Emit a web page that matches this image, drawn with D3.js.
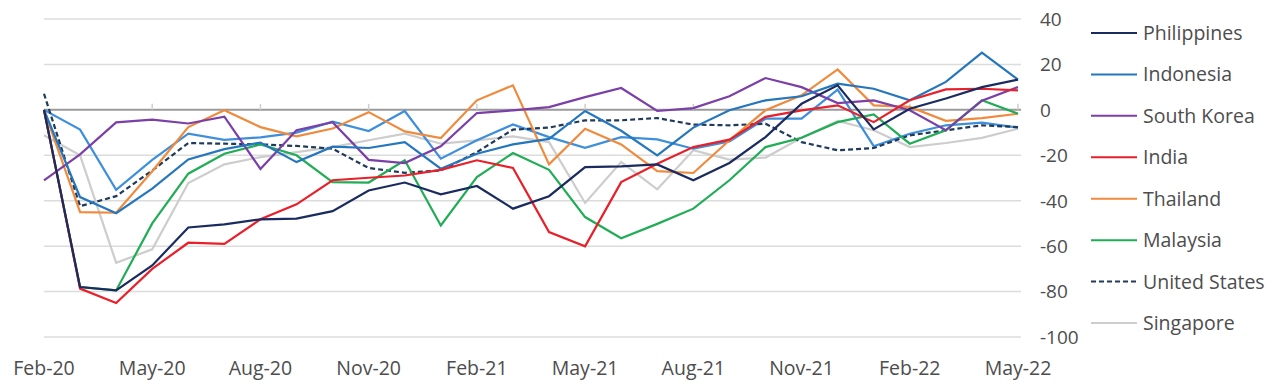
<!DOCTYPE html>
<html>
<head>
<meta charset="utf-8">
<script src="https://cdn.jsdelivr.net/npm/d3@7"></script>
<style>
  html, body { margin: 0; padding: 0; background: #fff; }
  svg { display: block; }
  text { font-family: "Open Sans", "Noto Sans", sans-serif; fill: #4d4d4d; }
</style>
</head>
<body>
<svg id="chart" width="1287" height="392"></svg>
<script>
// ---- data ----
const months = ["Feb-20","Mar-20","Apr-20","May-20","Jun-20","Jul-20","Aug-20","Sep-20","Oct-20","Nov-20","Dec-20","Jan-21",
  "Feb-21","Mar-21","Apr-21","May-21","Jun-21","Jul-21","Aug-21","Sep-21","Oct-21","Nov-21","Dec-21","Jan-22",
  "Feb-22","Mar-22","Apr-22","May-22"];
const tickLabels = ["Feb-20","May-20","Aug-20","Nov-20","Feb-21","May-21","Aug-21","Nov-21","Feb-22","May-22"];
const yTicks = [40, 20, 0, -20, -40, -60, -80, -100];

const philippines = [0,-78,-79.5,-68.5,-51.8,-50.4,-48.2,-47.9,-44.6,-35.5,-32,-37.2,-33.5,-43.5,-38,-25.2,-24.9,-24,-31,-23.4,-12,2.7,10.8,-8.6,0.5,5,10,13.3];
const indonesia   = [0,-38.4,-45.5,-34.7,-21.8,-17.3,-14.4,-23,-16.2,-16.8,-14.2,-25.9,-19.3,-15.2,-12.8,-0.5,-9.2,-20,-7.8,-0.2,4.2,6,11.5,9.3,4.2,12.3,25.2,13.3];
const otherBlue   = [0,-8.7,-35.2,-22,-10.5,-13.2,-12.1,-10,-5.2,-9.3,-0.5,-21.5,-13.4,-6.4,-12,-16.7,-12,-13,-17.1,-13.9,-3.9,-3.9,8.9,-16,-10.5,-6.8,-5.6,-7.8];
const southKorea  = [-31,-19.6,-5.5,-4.3,-6,-3,-26,-9,-5.4,-22,-23.4,-16,-1.4,-0.2,1.2,5.6,9.6,-0.5,0.8,6,14,10,3,4.2,-0.2,-9,4,10];
const india       = [0,-78.7,-85,-70,-58.5,-59,-48.2,-41.6,-31,-29.9,-28.9,-26.4,-22.2,-25.6,-53.8,-60.1,-31.8,-23.7,-16.4,-13.1,-3.1,-0.2,2,-5.4,4.2,9,9.3,8.6];
const thailand    = [0,-45,-45.3,-27,-7.6,-0.2,-7.6,-11.7,-8.2,-1,-9.5,-12.4,4.2,10.8,-24,-8.3,-15.2,-27,-27.8,-13.4,-0.2,6.4,17.8,2,1.3,-4.8,-3.6,-1.7];
const malaysia    = [0,-78,-79.5,-50,-28.1,-19.3,-15.2,-20,-31.8,-32,-22.2,-50.9,-29.6,-19,-26.4,-47.2,-56.5,-50.2,-43.5,-31,-16.4,-12.3,-5.4,-2,-14.9,-9,4.2,-1.7];
const unitedStates= [7.1,-42.4,-38,-26.7,-14.6,-14.9,-15.2,-15.9,-17.1,-25.6,-27.7,-26.7,-18.6,-8.7,-7.8,-4.6,-4.6,-3.6,-6.5,-6.8,-6.1,-14.2,-17.8,-16.8,-11.2,-9,-6.8,-7.6];
const singapore   = [-11.2,-20,-67.3,-61.4,-32.2,-24,-20.8,-18.6,-16.4,-13.4,-10.5,-14.9,-13.4,-11.7,-14.2,-41,-23,-35,-17.8,-21.9,-21,-12.3,-4.9,-9,-16.4,-14.6,-12.3,-8.3];

// ---- series table (draw order) ----
const series = [
  {name: "Singapore",     values: singapore,    color: "#cdcdcd", dash: null, legend: true},
  {name: "Other",         values: otherBlue,    color: "#3d8fdb", dash: null, legend: false},
  {name: "United States", values: unitedStates, color: "#1f3a5c", dash: "5,3", legend: true},
  {name: "Thailand",      values: thailand,     color: "#f08a3c", dash: null, legend: true},
  {name: "Malaysia",      values: malaysia,     color: "#20ad56", dash: null, legend: true},
  {name: "South Korea",   values: southKorea,   color: "#7b3fa8", dash: null, legend: true},
  {name: "Indonesia",     values: indonesia,    color: "#2476bd", dash: null, legend: true},
  {name: "India",         values: india,        color: "#e8202a", dash: null, legend: true},
  {name: "Philippines",   values: philippines,  color: "#1a2b5f", dash: null, legend: true}
];
const legendOrder = ["Philippines","Indonesia","South Korea","India","Thailand","Malaysia","United States","Singapore"];

// ---- layout ----
const svg = d3.select("#chart");
const x = d3.scalePoint().domain(months).range([44, 1018]);
const y = d3.scaleLinear().domain([-100, 40]).range([337, 19]);

// gridlines
svg.append("g").selectAll("line").data(yTicks.filter(d => d !== 0)).join("line")
  .attr("x1", 44).attr("x2", 1021)
  .attr("y1", d => y(d)).attr("y2", d => y(d))
  .attr("stroke", "#dcdcdc").attr("stroke-width", 1.5);

// zero line with tick marks
svg.append("line").attr("x1", 44).attr("x2", 1021).attr("y1", y(0)).attr("y2", y(0))
  .attr("stroke", "#9a9a9a").attr("stroke-width", 2);
svg.append("g").selectAll("line").data(tickLabels.slice(1)).join("line")
  .attr("x1", d => x(d)).attr("x2", d => x(d))
  .attr("y1", y(0) - 6).attr("y2", y(0))
  .attr("stroke", "#cfcfcf").attr("stroke-width", 1.5);

// right y labels
svg.append("g").selectAll("text").data(yTicks).join("text")
  .attr("x", 1040).attr("y", d => y(d)).attr("dy", "0.36em")
  .attr("font-size", 19).text(d => d);

// x labels
svg.append("g").selectAll("text").data(tickLabels).join("text")
  .attr("x", d => x(d)).attr("y", 375)
  .attr("text-anchor", "middle").attr("font-size", 19.5).text(d => d);

// lines
const line = d3.line().x((d, i) => x(months[i])).y(d => y(d));
svg.append("g").selectAll("path").data(series).join("path")
  .attr("d", s => line(s.values))
  .attr("fill", "none")
  .attr("stroke", s => s.color)
  .attr("stroke-width", 2.2)
  .attr("stroke-linejoin", "miter")
  .attr("stroke-dasharray", s => s.dash);

// legend
const leg = svg.append("g");
const legY = d3.scalePoint().domain(legendOrder).range([33, 323]);
legendOrder.forEach(name => {
  const s = series.find(t => t.name === name);
  const yy = legY(name);
  leg.append("line").attr("x1", 1091).attr("x2", 1137).attr("y1", yy).attr("y2", yy)
    .attr("stroke", s.color).attr("stroke-width", 2).attr("stroke-dasharray", s.dash);
  leg.append("text").attr("x", 1143).attr("y", yy).attr("dy", "0.36em")
    .attr("font-size", 19.5).text(name);
});
</script>
</body>
</html>
